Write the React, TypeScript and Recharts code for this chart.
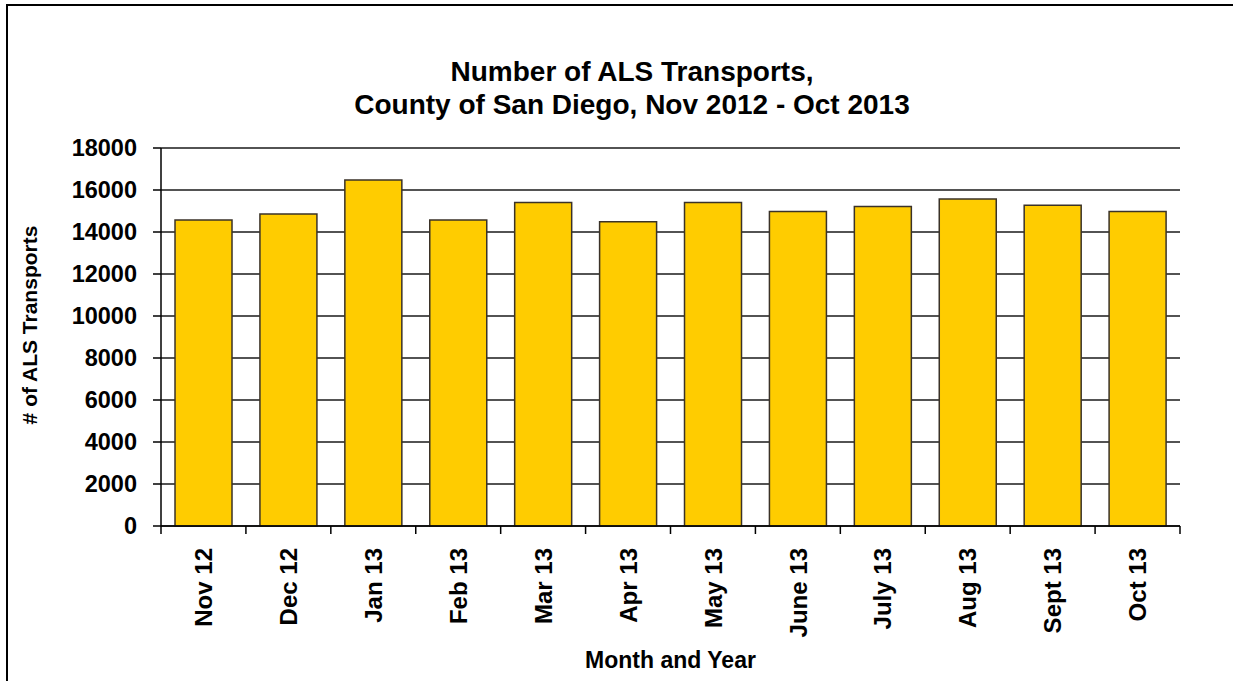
import React from "react";
import { BarChart, Bar, XAxis, YAxis, CartesianGrid } from "recharts";

const months = [
  "Nov 12",
  "Dec 12",
  "Jan 13",
  "Feb 13",
  "Mar 13",
  "Apr 13",
  "May 13",
  "June 13",
  "July 13",
  "Aug 13",
  "Sept 13",
  "Oct 13",
];
const transports = [
  14570, 14860, 16480, 14570, 15400, 14490, 15400, 14980, 15210, 15570, 15270,
  14980,
];
const yTicks = [0, 2000, 4000, 6000, 8000, 10000, 12000, 14000, 16000, 18000];

const data = months.map((month, i) => ({ month, value: transports[i] }));

const FONT = "'Liberation Sans', Arial, sans-serif";

// category ticks sit on the band edges, labels run bottom-to-top
const MonthTick = (props: any) => {
  const { x, y, payload, index } = props;
  const half = payload?.offset ?? 42.5;
  const ty = y + 14;
  return (
    <g>
      <line x1={x - half} y1={y - 8} x2={x - half} y2={y} stroke="#000" strokeWidth={1.5} />
      {index === months.length - 1 && (
        <line x1={x + half} y1={y - 8} x2={x + half} y2={y} stroke="#000" strokeWidth={1.5} />
      )}
      <text
        x={x}
        y={ty}
        dy="0.36em"
        textAnchor="end"
        transform={`rotate(-90, ${x}, ${ty})`}
        fontFamily={FONT}
        fontWeight="bold"
        fontSize={24}
        fill="#000"
      >
        {payload.value}
      </text>
    </g>
  );
};

export default function App() {
  return (
    <div
      style={{
        position: "absolute",
        left: 0,
        top: 0,
        width: 1233,
        height: 681,
        overflow: "hidden",
        background: "#fff",
        fontFamily: FONT,
      }}
    >
      {/* frame */}
      <div
        style={{
          position: "absolute",
          left: 6,
          top: 4,
          width: 1300,
          height: 700,
          borderTop: "2px solid #000",
          borderLeft: "2px solid #000",
        }}
      />
      <div
        style={{
          position: "absolute",
          left: 0,
          width: 1264,
          top: 55,
          textAlign: "center",
          fontWeight: "bold",
          fontSize: 28,
          lineHeight: "33px",
          color: "#000",
        }}
      >
        Number of ALS Transports,
        <br />
        County of San Diego, Nov 2012 - Oct 2013
      </div>
      <BarChart
        width={1233}
        height={681}
        data={data}
        margin={{ top: 148, right: 53, left: 0, bottom: 0 }}
        barCategoryGap="16.5%"
        style={{ position: "absolute", left: 0, top: 0 }}
      >
        <CartesianGrid vertical={false} stroke="#1a1a1a" strokeWidth={1.3} />
        <XAxis
          dataKey="month"
          interval={0}
          tickLine={false}
          axisLine={{ stroke: "#000", strokeWidth: 1.5 }}
          tick={<MonthTick />}
          height={155}
          label={{
            value: "Month and Year",
            position: "insideBottom",
            offset: 13,
            fontFamily: FONT,
            fontWeight: "bold",
            fontSize: 23,
            fill: "#000",
          }}
        />
        <YAxis
          domain={[0, 18000]}
          ticks={yTicks}
          interval={0}
          width={161}
          tickSize={8}
          tickMargin={16}
          tickLine={{ stroke: "#000", strokeWidth: 1.5 }}
          axisLine={{ stroke: "#000", strokeWidth: 1.5 }}
          tick={{ fontFamily: FONT, fontWeight: "bold", fontSize: 23.5, fill: "#000" }}
          label={{
            value: "# of ALS Transports",
            angle: -90,
            position: "insideLeft",
            offset: 30,
            dy: -12,
            fontFamily: FONT,
            fontWeight: "bold",
            fontSize: 21,
            fill: "#000",
            style: { textAnchor: "middle" },
          }}
        />
        <YAxis
          yAxisId="frame"
          orientation="right"
          domain={[0, 18000]}
          width={0}
          tick={false}
          tickLine={false}
          axisLine={{ stroke: "#000", strokeWidth: 1.5 }}
        />
        <Bar
          dataKey="value"
          fill="#FFCC00"
          stroke="#3a3228"
          strokeWidth={1.5}
          isAnimationActive={false}
        />
      </BarChart>
    </div>
  );
}
